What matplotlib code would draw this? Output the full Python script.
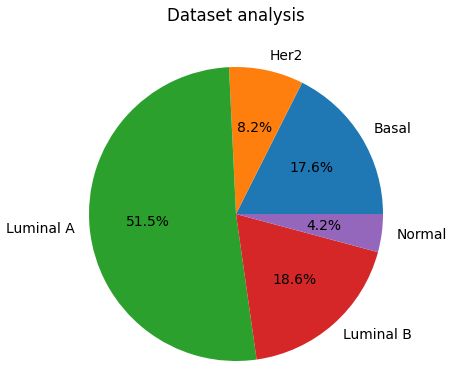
import matplotlib
matplotlib.use('Agg')
import matplotlib.pyplot as plt

# subtype shares (percent)
subtypes = ['Basal', 'Her2', 'Luminal A', 'Luminal B', 'Normal']
shares = [17.58, 8.18, 51.48, 18.58, 4.18]

fig = plt.figure(figsize=(4.57, 3.76), dpi=100)
# pie centre ~ (236, 214) px, radius ~147 px
ax = fig.add_axes([89 / 457, 15 / 376, 294 / 457, 294 / 376])

ax.pie(shares, labels=subtypes, autopct='%1.1f%%',
       textprops={'fontsize': 10})
ax.set_xlim(-1, 1)
ax.set_ylim(-1, 1)
ax.set_aspect('equal')
ax.set_title('Dataset analysis', fontsize=12, pad=33)

fig.savefig('out.png', dpi=100)
